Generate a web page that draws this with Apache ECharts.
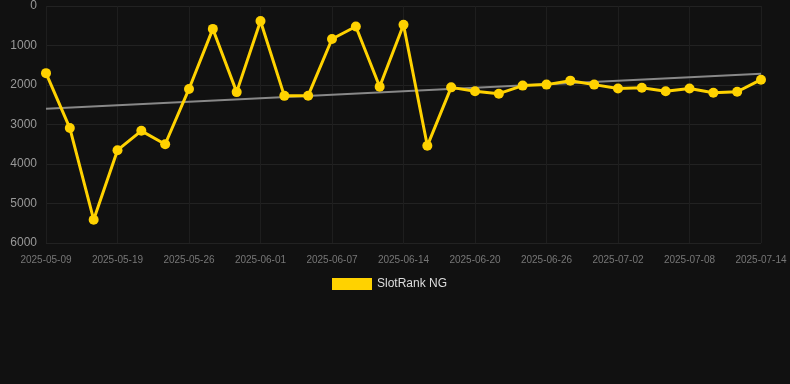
<!DOCTYPE html>
<html><head><meta charset="utf-8">
<script src="https://cdn.jsdelivr.net/npm/echarts@6/dist/echarts.min.js"></script>
<style>html,body{margin:0;padding:0;background:#111111;}#c{width:790px;height:384px;}</style>
</head><body><div id="c"></div>
<script>
const dates = ['2025-05-09','2025-05-12','2025-05-15','2025-05-19','2025-05-21','2025-05-23','2025-05-26','2025-05-28','2025-05-30','2025-06-01','2025-06-03','2025-06-05','2025-06-07','2025-06-09','2025-06-11','2025-06-14','2025-06-16','2025-06-18','2025-06-20','2025-06-22','2025-06-24','2025-06-26','2025-06-28','2025-06-30','2025-07-02','2025-07-04','2025-07-06','2025-07-08','2025-07-10','2025-07-12','2025-07-14'];
const rank = [1700,3090,5410,3650,3160,3500,2100,580,2180,380,2275,2270,835,520,2045,475,3540,2060,2160,2220,2015,1990,1890,1990,2090,2070,2160,2090,2195,2170,1865];
const trendStart = 2600;
const trendEnd = 1715;
const trend = dates.map((d,i)=> i===0 ? trendStart : (i===dates.length-1 ? trendEnd : null));

const chart = echarts.init(document.getElementById('c'));
chart.setOption({
  backgroundColor:'#111111',
  animation:false,
  grid:{left:46,right:29,top:6,bottom:141},
  legend:{data:['SlotRank NG'],top:273,left:327,itemWidth:40,itemHeight:12,textStyle:{color:'#dddddd',fontSize:12,fontFamily:'Liberation Sans, Arial, sans-serif'},icon:'rect'},
  xAxis:{type:'category',data:dates,boundaryGap:false,
    axisLine:{show:false},axisTick:{show:false},
    axisLabel:{interval:2,color:'#777777',fontSize:10,margin:12,fontFamily:'Liberation Sans, Arial, sans-serif'},
    splitLine:{show:true,interval:2,lineStyle:{color:'#1e1e1e',width:1}}},
  yAxis:{type:'value',inverse:true,min:0,max:6000,interval:1000,
    axisLine:{show:false},axisTick:{show:false},
    axisLabel:{color:'#999999',fontSize:12,margin:9,formatter:v=>String(v),fontFamily:'Liberation Sans, Arial, sans-serif'},
    splitLine:{lineStyle:{color:'#222222',width:1}}},
  series:[
    {name:'Trend',type:'line',data:trend,connectNulls:true,showSymbol:false,symbol:'none',
      lineStyle:{color:'#888888',width:2},z:1,silent:true},
    {name:'SlotRank NG',type:'line',data:rank,symbol:'circle',symbolSize:10,
      itemStyle:{color:'#FFD200'},lineStyle:{color:'#FFD200',width:3},z:3}
  ]
});
</script></body></html>
